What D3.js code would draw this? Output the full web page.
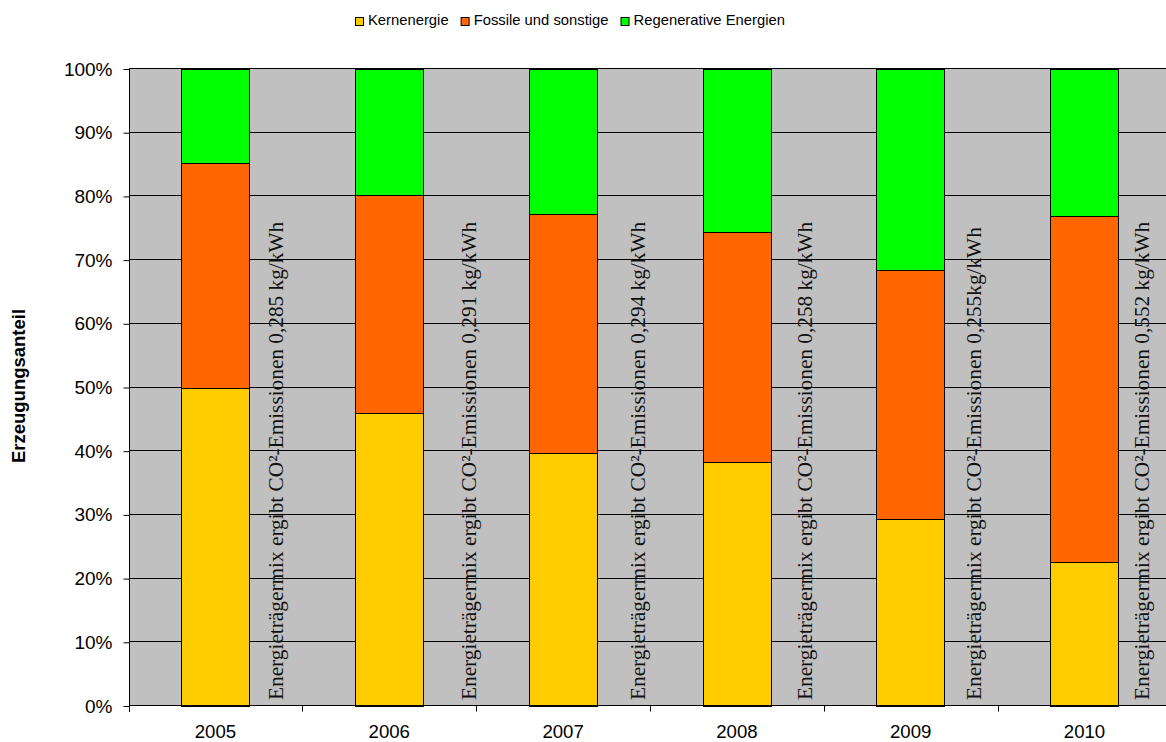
<!DOCTYPE html>
<html>
<head>
<meta charset="utf-8">
<script src="https://cdn.jsdelivr.net/npm/d3@7"></script>
<style>
  html, body { margin: 0; padding: 0; background: #ffffff; overflow: hidden; }
  svg { display: block; }
</style>
</head>
<body>
<svg id="chart" width="1166" height="742"></svg>
<script>
// Generation mix per year (percent of total production)
const years = ["2005", "2006", "2007", "2008", "2009", "2010"];
const kernenergie = [49.8, 45.9, 39.6, 38.2, 29.2, 22.6];
const fossile = [35.4, 34.3, 37.6, 36.2, 39.2, 54.3];
const regenerative = [14.8, 19.8, 22.8, 25.6, 31.6, 23.1];
const emissionNotes = [
  "Energieträgermix ergibt CO²-Emissionen 0,285 kg/kWh",
  "Energieträgermix ergibt CO²-Emissionen 0,291 kg/kWh",
  "Energieträgermix ergibt CO²-Emissionen 0,294 kg/kWh",
  "Energieträgermix ergibt CO²-Emissionen 0,258 kg/kWh",
  "Energieträgermix ergibt CO²-Emissionen 0,255kg/kWh",
  "Energieträgermix ergibt CO²-Emissionen 0,552 kg/kWh"
];
const seriesNames = ["Kernenergie", "Fossile und sonstige", "Regenerative Energien"];
const yTickValues = [0, 10, 20, 30, 40, 50, 60, 70, 80, 90, 100];
const yTitle = "Erzeugungsanteil";

// Layout
const colors = ["#ffcc00", "#ff6600", "#00ff00"];
const noteGap = [33, 52, 48, 41, 36, 30]; // note baseline distance from bar edge
const plot = { left: 129, right: 1171, top: 68.5, bottom: 705.5 };
const width = 1166;
const sans = "'Liberation Sans', Arial, sans-serif";
const serif = "'Liberation Serif', 'Times New Roman', serif";

const svg = d3.select("#chart");

const x = d3.scaleBand()
  .domain(years)
  .range([plot.left, plot.right])
  .paddingInner(0.605)
  .paddingOuter(0.3);

const y = d3.scaleLinear().domain([0, 100]).range([plot.bottom, plot.top]);

// Plot background
svg.append("rect")
  .attr("x", plot.left).attr("y", plot.top)
  .attr("width", width - plot.left).attr("height", plot.bottom - plot.top)
  .attr("fill", "#c0c0c0");

// Horizontal gridlines
svg.append("g").selectAll("line")
  .data(yTickValues)
  .join("line")
  .attr("x1", plot.left).attr("x2", width)
  .attr("y1", d => Math.round(y(d) - 0.5) + 0.5)
  .attr("y2", d => Math.round(y(d) - 0.5) + 0.5)
  .attr("stroke", "#000").attr("stroke-width", 1);

// Stacked bars
const rows = years.map((yr, i) => ({
  year: yr, Kernenergie: kernenergie[i],
  "Fossile und sonstige": fossile[i], "Regenerative Energien": regenerative[i]
}));
const stacked = d3.stack().keys(seriesNames)(rows);

svg.append("g").selectAll("g")
  .data(stacked)
  .join("g")
  .attr("fill", (d, i) => colors[i])
  .selectAll("rect")
  .data(d => d)
  .join("rect")
  .attr("x", d => Math.round(x(d.data.year)) + 0.5)
  .attr("width", Math.round(x.bandwidth()) - 1)
  .attr("y", d => Math.round(y(d[1])) + 0.5)
  .attr("height", d => Math.round(y(d[0])) - Math.round(y(d[1])))
  .attr("stroke", "#000").attr("stroke-width", 1);

// Rotated emission notes beside each bar
svg.append("g").selectAll("text")
  .data(emissionNotes)
  .join("text")
  .attr("transform", (d, i) =>
    `translate(${x(years[i]) + x.bandwidth() + noteGap[i]},${plot.bottom - 5.5}) rotate(-90)`)
  .attr("font-family", serif)
  .attr("font-size", "21.3px")
  .attr("fill", "#111")
  .text(d => d);

// Y axis
const yAxis = d3.axisLeft(y)
  .tickValues(yTickValues)
  .tickFormat(d => d + "%")
  .tickSize(6)
  .tickPadding(11);
const gy = svg.append("g")
  .attr("transform", `translate(${plot.left + 0.5},0.5)`)
  .call(yAxis);
gy.select(".domain").attr("d", `M0,${plot.top - 0.5}V${plot.bottom + 6}`).attr("stroke", "#000");
gy.selectAll(".tick line").attr("stroke", "#000");
gy.selectAll(".tick text")
  .attr("font-family", sans).attr("font-size", "19px").attr("fill", "#000");

// X axis: ticks on category boundaries, labels centred under bars
const gx = svg.append("g");
gx.append("line")
  .attr("x1", plot.left).attr("x2", width)
  .attr("y1", plot.bottom).attr("y2", plot.bottom)
  .attr("stroke", "#000");
gx.selectAll("line.sep")
  .data(years.slice(1))
  .join("line")
  .attr("class", "sep")
  .attr("x1", d => Math.round(x(d) - x.step() * x.paddingInner() / 2) + 0.5)
  .attr("x2", d => Math.round(x(d) - x.step() * x.paddingInner() / 2) + 0.5)
  .attr("y1", plot.bottom).attr("y2", plot.bottom + 6)
  .attr("stroke", "#000");
gx.selectAll("text")
  .data(years)
  .join("text")
  .attr("x", d => x(d) + x.bandwidth() / 2)
  .attr("y", 738)
  .attr("text-anchor", "middle")
  .attr("font-family", sans).attr("font-size", "18.6px").attr("fill", "#000")
  .text(d => d);

// Y axis title
svg.append("text")
  .attr("transform", "translate(25,386) rotate(-90)")
  .attr("text-anchor", "middle")
  .attr("font-family", sans).attr("font-weight", "bold").attr("font-size", "18.5px")
  .attr("fill", "#000")
  .text(yTitle);

// Legend
const legend = svg.append("g").attr("transform", "translate(355,0)");
let lx = 0;
seriesNames.forEach((name, i) => {
  legend.append("rect")
    .attr("x", lx + 0.5).attr("y", 17.5)
    .attr("width", 8).attr("height", 8)
    .attr("fill", colors[i]).attr("stroke", "#000");
  const t = legend.append("text")
    .attr("x", lx + 13).attr("y", 25)
    .attr("font-family", sans).attr("font-size", "14.8px").attr("fill", "#000")
    .text(name);
  lx += 13 + t.node().getComputedTextLength() + 12;
});
</script>
</body>
</html>
